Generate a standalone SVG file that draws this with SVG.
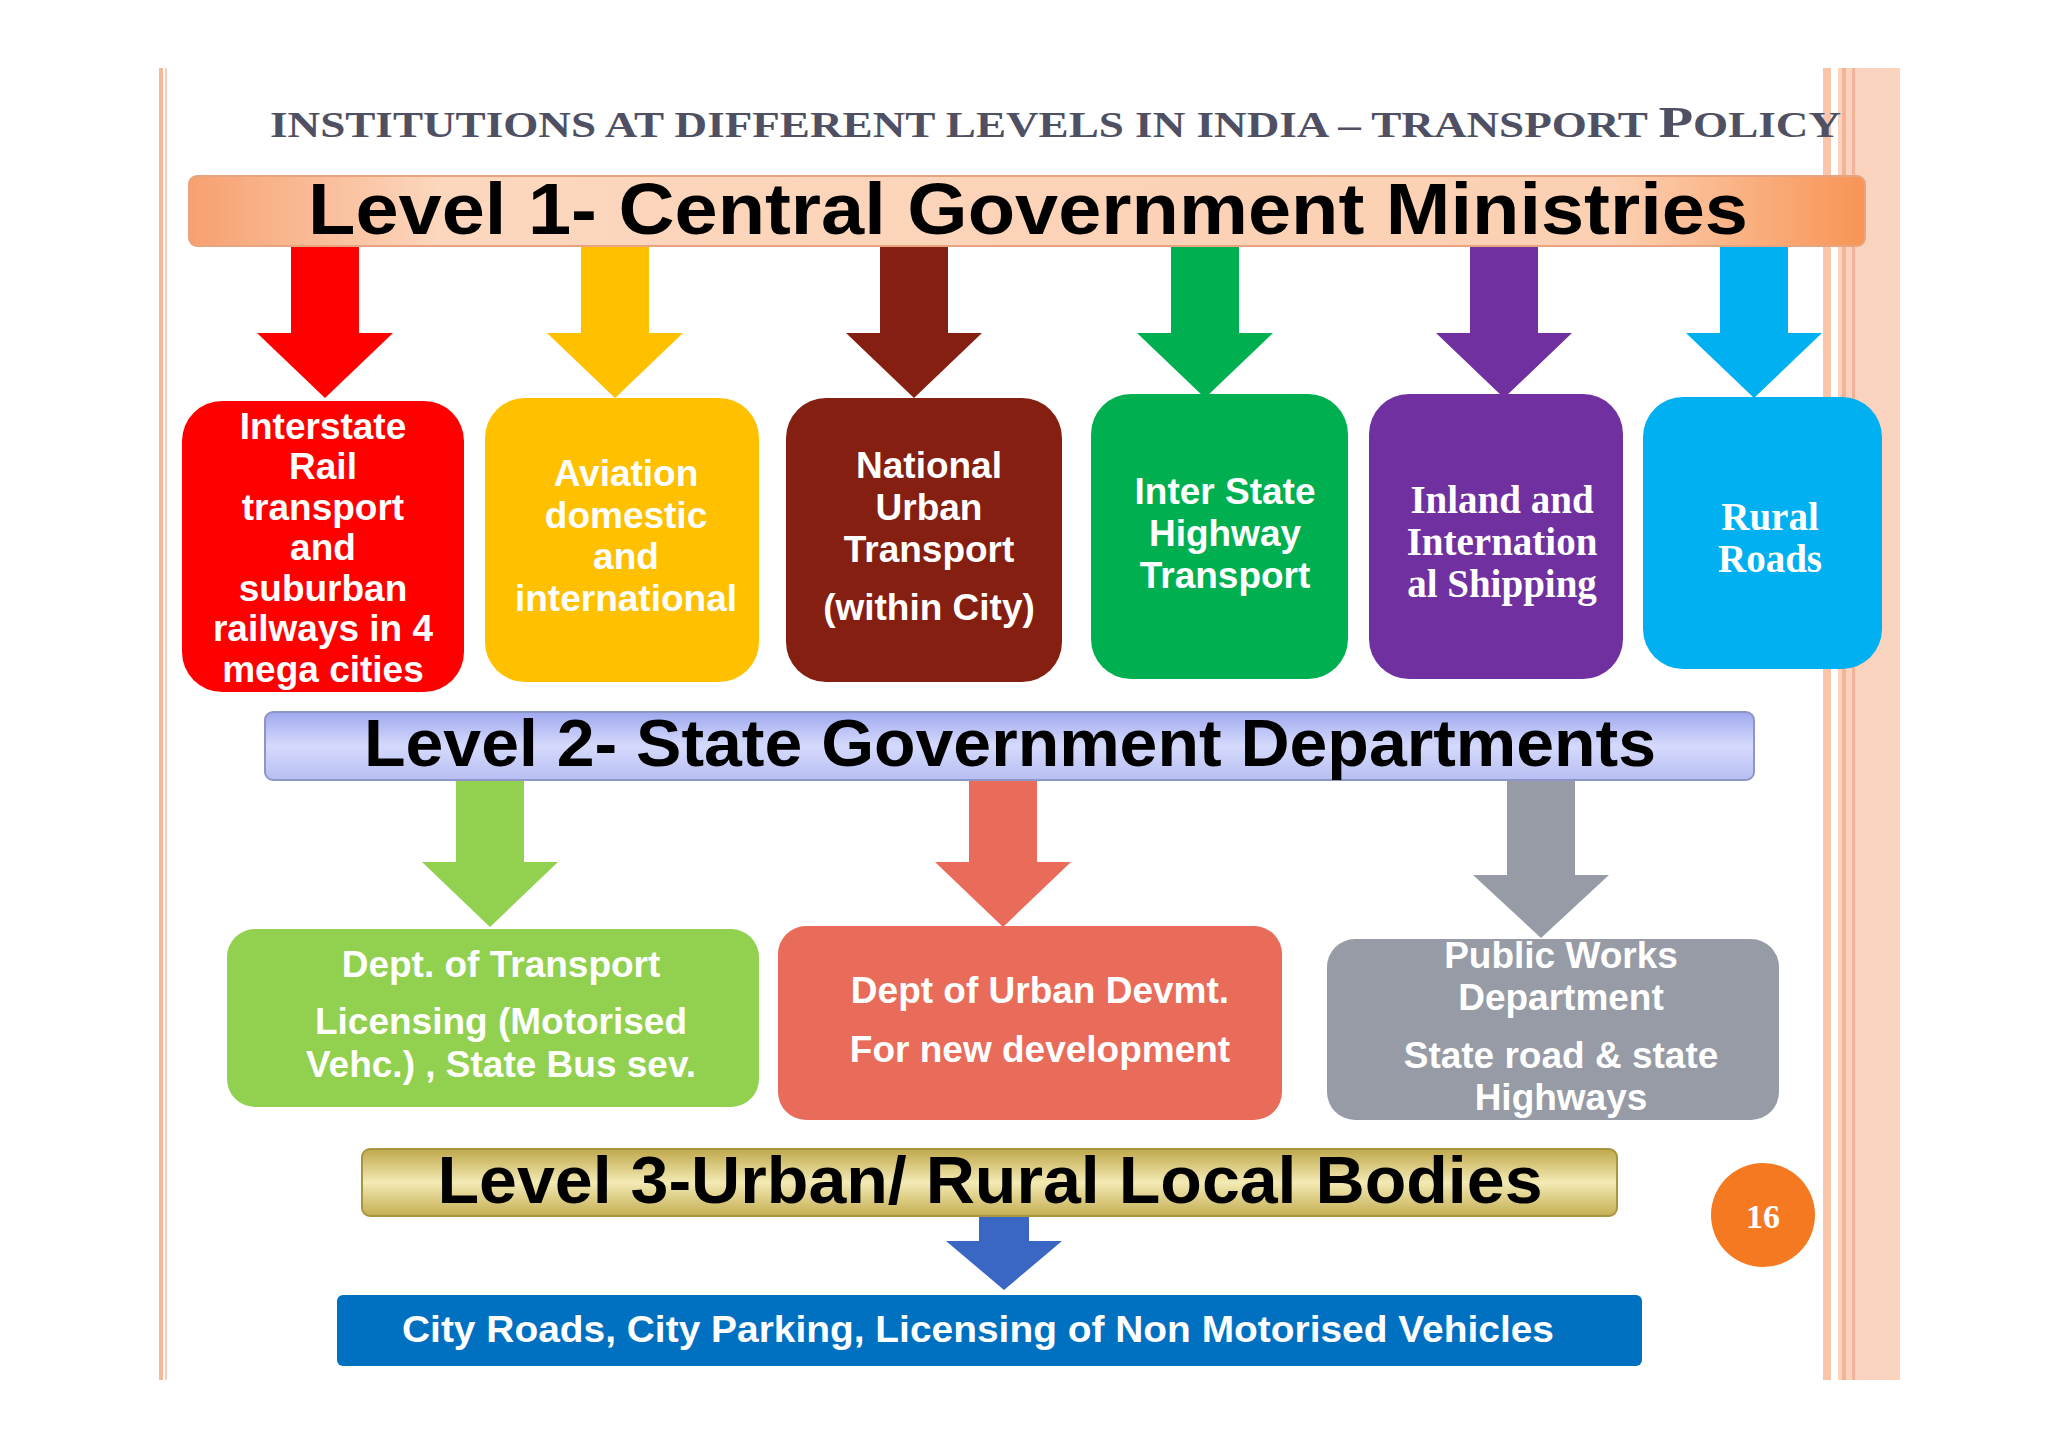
<svg xmlns="http://www.w3.org/2000/svg" width="2048" height="1448" viewBox="0 0 2048 1448">
<defs>
<style>
.t{font-family:"Liberation Sans",Arial,sans-serif;font-weight:bold;fill:#fff;text-anchor:middle;font-size:37px}
.s{font-family:"Liberation Serif","Times New Roman",serif;font-weight:bold;fill:#fff;text-anchor:middle;font-size:39px}
.bar{font-family:"Liberation Sans",Arial,sans-serif;font-weight:bold;fill:#000;text-anchor:middle}
</style>
<linearGradient id="g1" x1="0" y1="0" x2="1" y2="0"><stop offset="0" stop-color="#F7A070"/><stop offset="0.15" stop-color="#FCD7BE"/><stop offset="0.85" stop-color="#FCD0B2"/><stop offset="1" stop-color="#F89455"/></linearGradient>
<linearGradient id="g2" x1="0" y1="0" x2="0" y2="1"><stop offset="0" stop-color="#9FA8EE"/><stop offset="0.5" stop-color="#D5DAFC"/><stop offset="1" stop-color="#B7BEF2"/></linearGradient>
<linearGradient id="g3" x1="0" y1="0" x2="0" y2="1"><stop offset="0" stop-color="#BFA84A"/><stop offset="0.5" stop-color="#F3EAB4"/><stop offset="1" stop-color="#C4AE52"/></linearGradient>
</defs>
<rect width="2048" height="1448" fill="#fff"/>
<g id="frame">
<rect x="159" y="68" width="4" height="1312" fill="#F6B79A"/>
<rect x="165" y="68" width="2" height="1312" fill="#F9CDB8"/>
<rect x="1823" y="68" width="8" height="1312" fill="#F9C6AC"/>
<rect x="1838" y="68" width="62" height="1312" fill="#FAD3BF"/>
<rect x="1842" y="68" width="4" height="1312" fill="#F6B296"/>
<rect x="1852" y="68" width="3" height="1312" fill="#F6B296"/>
</g>
<text x="270" y="137" textLength="1571" lengthAdjust="spacingAndGlyphs" style="font-family:'Liberation Serif','Times New Roman',serif;font-size:35px;fill:#4F5063;font-weight:bold">INSTITUTIONS  AT DIFFERENT LEVELS IN INDIA – TRANSPORT <tspan style="font-size:44px">P</tspan>OLICY</text>
<g id="connectors">
<path d="M291 246h68v87h34l-68 65l-68-65h34z" fill="#FF0000"/>
<path d="M581 246h68v87h34l-68 65l-68-65h34z" fill="#FFC000"/>
<path d="M880 246h68v87h34l-68 65l-68-65h34z" fill="#851F12"/>
<path d="M1171 246h68v87h34l-68 65l-68-65h34z" fill="#00B050"/>
<path d="M1470 246h68v87h34l-68 65l-68-65h34z" fill="#7030A0"/>
<path d="M1720 246h68v87h34l-68 65l-68-65h34z" fill="#00B0F0"/>
<path d="M456 780h68v82h34l-68 65l-68-65h34z" fill="#92D050"/>
<path d="M969 780h68v82h34l-68 65l-68-65h34z" fill="#E96B5A"/>
<path d="M1507 780h68v95h34l-68 63l-68-63h34z" fill="#969BA6"/>
<path d="M979 1216h50v25h33l-58 49l-58-49h33z" fill="#3A66C4"/>
</g>
<g id="level1"><rect x="189" y="176" width="1676" height="70" rx="8" fill="url(#g1)" stroke="#E8A47E" stroke-width="2"/>
<text class="bar" x="1028" y="234" font-size="72" textLength="1440" lengthAdjust="spacingAndGlyphs">Level 1- Central Government Ministries</text></g>
<g id="n1"><rect x="182" y="401" width="282" height="291" rx="40" fill="#FF0000"/>
<text class="t" x="323"><tspan x="323" y="439">Interstate</tspan><tspan x="323" y="479">Rail</tspan><tspan x="323" y="520">transport</tspan><tspan x="323" y="560">and</tspan><tspan x="323" y="601">suburban</tspan><tspan x="323" y="641">railways in 4</tspan><tspan x="323" y="682">mega cities</tspan></text></g>
<g id="n2"><rect x="485" y="398" width="274" height="284" rx="40" fill="#FFC000"/>
<text class="t"><tspan x="626" y="486">Aviation</tspan><tspan x="626" y="528">domestic</tspan><tspan x="626" y="569">and</tspan><tspan x="626" y="611">international</tspan></text></g>
<g id="n3"><rect x="786" y="398" width="276" height="284" rx="40" fill="#851F12"/>
<text class="t"><tspan x="929" y="478">National</tspan><tspan x="929" y="520">Urban</tspan><tspan x="929" y="562">Transport</tspan><tspan x="929" y="620">(within City)</tspan></text></g>
<g id="n4"><rect x="1091" y="394" width="257" height="285" rx="40" fill="#00B050"/>
<text class="t"><tspan x="1225" y="504">Inter State</tspan><tspan x="1225" y="546">Highway</tspan><tspan x="1225" y="588">Transport</tspan></text></g>
<g id="n5"><rect x="1369" y="394" width="254" height="285" rx="40" fill="#7030A0"/>
<text class="s"><tspan x="1502" y="513">Inland and</tspan><tspan x="1502" y="555">Internation</tspan><tspan x="1502" y="597">al Shipping</tspan></text></g>
<g id="n6"><rect x="1643" y="397" width="239" height="272" rx="40" fill="#00B0F0"/>
<text class="s"><tspan x="1770" y="530">Rural</tspan><tspan x="1770" y="572">Roads</tspan></text></g>
<g id="level2"><rect x="265" y="712" width="1489" height="68" rx="8" fill="url(#g2)" stroke="#8E96C8" stroke-width="2"/>
<text class="bar" x="1010" y="766" font-size="66" textLength="1292" lengthAdjust="spacingAndGlyphs">Level 2- State Government Departments</text></g>
<g id="m1"><rect x="227" y="929" width="532" height="178" rx="28" fill="#92D050"/>
<text class="t"><tspan x="501" y="977">Dept. of Transport</tspan><tspan x="501" y="1034">Licensing (Motorised</tspan><tspan x="501" y="1077">Vehc.) , State Bus sev.</tspan></text></g>
<g id="m2"><rect x="778" y="926" width="504" height="194" rx="28" fill="#E96B5A"/>
<text class="t"><tspan x="1040" y="1003">Dept of Urban Devmt.</tspan><tspan x="1040" y="1062">For new development</tspan></text></g>
<g id="m3"><rect x="1327" y="939" width="452" height="181" rx="28" fill="#969BA6"/>
<text class="t"><tspan x="1561" y="968">Public Works</tspan><tspan x="1561" y="1010">Department</tspan><tspan x="1561" y="1068">State road &amp; state</tspan><tspan x="1561" y="1110">Highways</tspan></text></g>
<g id="level3"><rect x="362" y="1149" width="1255" height="67" rx="8" fill="url(#g3)" stroke="#A89442" stroke-width="2"/>
<text class="bar" x="990" y="1203" font-size="66" textLength="1105" lengthAdjust="spacingAndGlyphs">Level 3-Urban/ Rural Local Bodies</text></g>
<g id="bottom"><rect x="337" y="1295" width="1305" height="71" rx="6" fill="#0070C0"/>
<text class="t" x="978" y="1342" font-size="37" textLength="1152" lengthAdjust="spacingAndGlyphs">City Roads, City Parking, Licensing of Non Motorised Vehicles</text></g>
<g id="page"><circle cx="1763" cy="1215" r="52" fill="#F47920"/>
<text x="1763" y="1228" text-anchor="middle" style="font-family:'Liberation Serif',serif;font-size:34px;fill:#fff;font-weight:bold">16</text></g>
</svg>
